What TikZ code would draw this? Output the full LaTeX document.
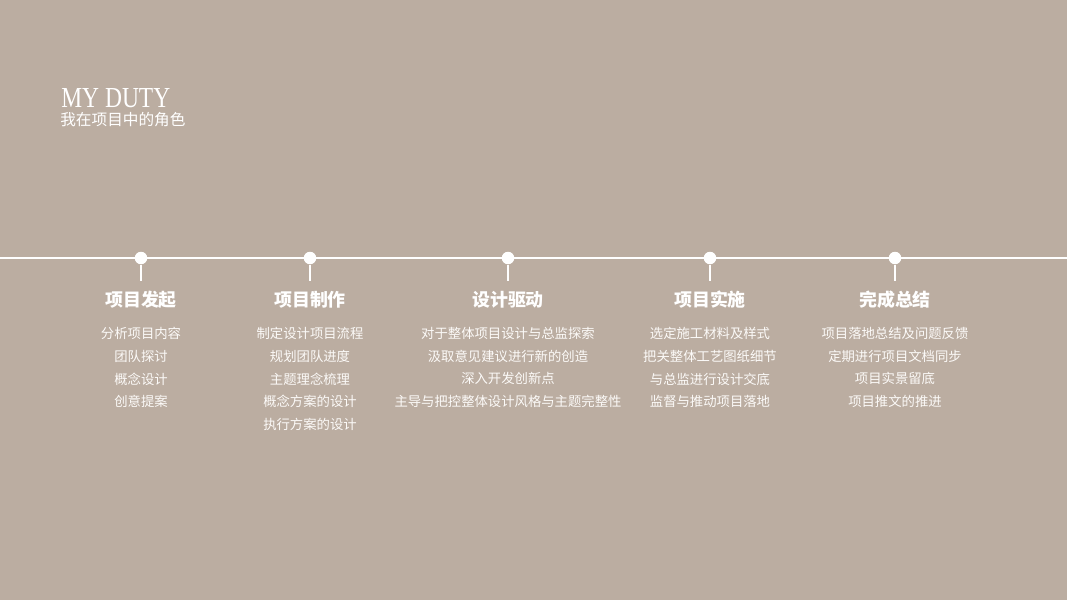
\documentclass[tikz,border=0pt]{standalone}
\usepackage{graphicx}
\usepackage{fontspec}
\setmainfont{Liberation Serif}
\newfontfamily\cjk{Noto Sans CJK SC}
\definecolor{bgtaupe}{RGB}{187,173,161}
\definecolor{softwhite}{RGB}{252,250,248}

\begin{document}
\begin{tikzpicture}[x=0.02cm,y=-0.02cm,
  stagedot/.style={circle,fill=white,inner sep=0pt,minimum size=0.25cm},
  stagehead/.style={text=white,inner sep=0pt,font=\cjk\bfseries\fontsize{10.2}{12}\selectfont},
  stagelist/.style={text=softwhite,inner sep=0pt,align=center,anchor=north,
    font=\cjk\fontsize{7.6}{12.9}\selectfont}]
\useasboundingbox[fill=bgtaupe] (0,0) rectangle (1067,600);
% title
\node[anchor=base west,inner sep=0pt,text=white,font=\fontsize{16.5}{18}\selectfont] (title) at (61,107) {\scalebox{0.81}[1]{MY DUTY}};
\node[anchor=west,inner sep=0pt,text=white,font=\cjk\fontsize{8.9}{10}\selectfont] (subtitle) at (60,120) {我在项目中的角色};
% timeline
\coordinate (line-w) at (0,258);
\coordinate (line-e) at (1067,258);
\draw[white,line width=1.1pt] (line-w) -- (line-e);
\foreach \px/\id/\head/\items in {
  141/a/项目发起/{分析项目内容\\团队探讨\\概念设计\\创意提案},
  310/b/项目制作/{制定设计项目流程\\规划团队进度\\主题理念梳理\\概念方案的设计\\执行方案的设计},
  508/c/设计驱动/{对于整体项目设计与总监探索\\汲取意见建议进行新的创造\\深入开发创新点\\主导与把控整体设计风格与主题完整性},
  710/d/项目实施/{选定施工材料及样式\\把关整体工艺图纸细节\\与总监进行设计交底\\监督与推动项目落地},
  895/e/完成总结/{项目落地总结及问题反馈\\定期进行项目文档同步\\项目实景留底\\项目推文的推进}}
{
  \node[stagedot] (dot-\id) at (\px,258) {};
  \coordinate (tick-\id) at (\px,281);
  \draw[white,line width=1.1pt] (dot-\id) -- (tick-\id);
  \node[stagehead] (head-\id) at (\px,300) {\head};
  \node[stagelist] (list-\id) at (\px,327) {\items};
}
\end{tikzpicture}
\end{document}
